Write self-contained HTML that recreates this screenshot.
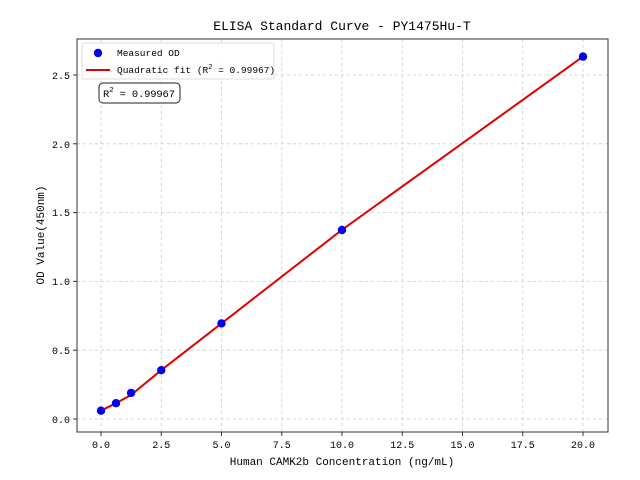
<!DOCTYPE html>
<html><head><style>body{margin:0;background:#fff}svg{display:block}text{font-family:"Liberation Mono","WenQuanYi Zen Hei",monospace;fill:#000}</style></head><body>
<svg width="640" height="480" xmlns="http://www.w3.org/2000/svg">
<rect width="640" height="480" fill="#fff"/>
<g stroke="#ccc" stroke-dasharray="3,3" stroke-width="0.8">
<line x1="101" y1="39" x2="101" y2="432"/><line x1="161.25" y1="39" x2="161.25" y2="432"/><line x1="221.5" y1="39" x2="221.5" y2="432"/><line x1="281.75" y1="39" x2="281.75" y2="432"/><line x1="342" y1="39" x2="342" y2="432"/><line x1="402.25" y1="39" x2="402.25" y2="432"/><line x1="462.5" y1="39" x2="462.5" y2="432"/><line x1="522.75" y1="39" x2="522.75" y2="432"/><line x1="583" y1="39" x2="583" y2="432"/>
<line x1="77" y1="419" x2="608" y2="419"/><line x1="77" y1="350.2" x2="608" y2="350.2"/><line x1="77" y1="281.4" x2="608" y2="281.4"/><line x1="77" y1="212.6" x2="608" y2="212.6"/><line x1="77" y1="143.8" x2="608" y2="143.8"/><line x1="77" y1="75" x2="608" y2="75"/>
</g>
<polyline fill="none" stroke="#e00000" stroke-width="2" points="101,410.7 116,403.2 131,395 161.25,370.2 221.5,323.4 342,229.8 583,56.6"/>
<g fill="#0000ee">
<circle cx="101" cy="410.7" r="4.2"/><circle cx="116" cy="403.2" r="4.2"/><circle cx="131.1" cy="392.9" r="4.2"/><circle cx="161.25" cy="370.2" r="4.2"/><circle cx="221.5" cy="323.4" r="4.2"/><circle cx="342" cy="230" r="4.2"/><circle cx="583" cy="56.6" r="4.2"/>
</g>
<rect x="77" y="39" width="531" height="393" fill="none" stroke="#333" stroke-width="1"/>
<g stroke="#333"><line x1="101" y1="432" x2="101" y2="436"/><line x1="161.25" y1="432" x2="161.25" y2="436"/><line x1="221.5" y1="432" x2="221.5" y2="436"/><line x1="281.75" y1="432" x2="281.75" y2="436"/><line x1="342" y1="432" x2="342" y2="436"/><line x1="402.25" y1="432" x2="402.25" y2="436"/><line x1="462.5" y1="432" x2="462.5" y2="436"/><line x1="522.75" y1="432" x2="522.75" y2="436"/><line x1="583" y1="432" x2="583" y2="436"/>
<line x1="73" y1="419" x2="77" y2="419"/><line x1="73" y1="350.2" x2="77" y2="350.2"/><line x1="73" y1="281.4" x2="77" y2="281.4"/><line x1="73" y1="212.6" x2="77" y2="212.6"/><line x1="73" y1="143.8" x2="77" y2="143.8"/><line x1="73" y1="75" x2="77" y2="75"/></g>
<g font-size="10" text-anchor="middle"><text x="101" y="448">0.0</text><text x="161.25" y="448">2.5</text><text x="221.5" y="448">5.0</text><text x="281.75" y="448">7.5</text><text x="342" y="448">10.0</text><text x="402.25" y="448">12.5</text><text x="462.5" y="448">15.0</text><text x="522.75" y="448">17.5</text><text x="583" y="448">20.0</text></g>
<g font-size="10" text-anchor="end"><text x="70" y="423">0.0</text><text x="70" y="354">0.5</text><text x="70" y="285">1.0</text><text x="70" y="216">1.5</text><text x="70" y="148">2.0</text><text x="70" y="79">2.5</text></g>
<text x="342" y="465" font-size="11" text-anchor="middle">Human CAMK2b Concentration (ng/mL)</text>
<text transform="translate(44,235) rotate(-90)" font-size="11" text-anchor="middle">OD Value(450nm)</text>
<text x="342" y="30" font-size="13" text-anchor="middle">ELISA Standard Curve - PY1475Hu-T</text>
<rect x="82" y="43" width="192" height="36" rx="2" fill="#fff" fill-opacity="0.85" stroke="#ddd"/>
<circle cx="98" cy="53" r="4.2" fill="#0000ee"/>
<text x="117" y="56" font-size="9.5">Measured OD</text>
<line x1="86" y1="70" x2="110" y2="70" stroke="#e00000" stroke-width="2"/>
<text x="117" y="73" font-size="9.5">Quadratic fit (R<tspan font-size="7" dy="-4">2</tspan><tspan dy="4"> = 0.99967)</tspan></text>
<rect x="99" y="83" width="81" height="20" rx="4" fill="#fff" stroke="#222"/>
<text x="103" y="97" font-size="10.5" textLength="72">R<tspan font-size="7.5" dy="-5">2</tspan><tspan dy="5"> = 0.99967</tspan></text>
</svg>
</body></html>
